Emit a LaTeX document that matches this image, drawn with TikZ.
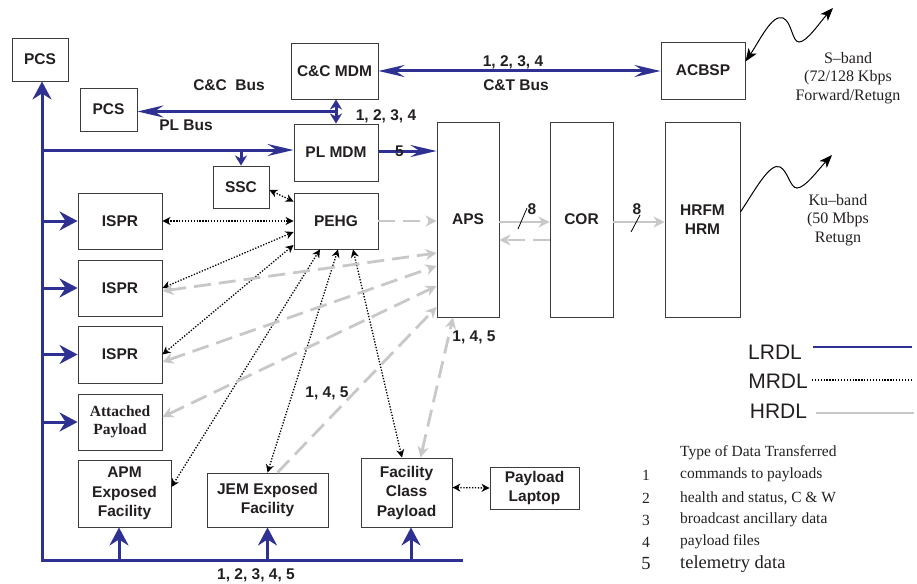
\documentclass[tikz,border=0pt]{standalone}
\usepackage{fontspec}
\setmainfont{Liberation Serif}
\setsansfont{Liberation Sans}
\usepackage{tikz}
\usetikzlibrary{arrows.meta,calc}
\definecolor{lrblue}{HTML}{2E3192}
\definecolor{hrgray}{HTML}{C8C8C8}
\definecolor{boxline}{HTML}{3C3C3C}
\definecolor{ink}{HTML}{231F20}
\tikzset{
  box/.style={draw=boxline,line width=0.9pt,fill=white,align=center,text=ink,
    font=\fontsize{15.5}{19.5}\selectfont\sffamily\bfseries,inner sep=1pt},
  dims/.style 2 args={minimum width=#1,minimum height=#2},
  serifbox/.style={box,font=\fontsize{15.5}{18}\selectfont\rmfamily\bfseries},
  lbl/.style={font=\fontsize{15.5}{19}\selectfont\sffamily\bfseries,text=ink,inner sep=0pt},
  note/.style={font=\fontsize{16}{18.8}\selectfont,text=ink,align=center,inner sep=0pt},
  keyname/.style={font=\fontsize{21}{24}\selectfont\sffamily,text=ink,inner sep=0pt},
  keynum/.style={font=\fontsize{15.5}{18}\selectfont,text=ink,inner sep=0pt},
  keytext/.style={font=\fontsize{15.5}{18}\selectfont,text=ink,inner sep=0pt,anchor=west},
  lrdl/.style={draw=lrblue,line width=3pt,>={Stealth[length=18pt,width=19pt,inset=6pt]},->},
  lrbus/.style={lrdl,>={Stealth[length=26pt,width=12pt,inset=9pt]}},
  lrsmall/.style={lrdl,>={Stealth[length=10pt,width=12pt,inset=3pt]}},
  mrdl/.style={draw=black,line width=1.3pt,dash pattern=on 1.3pt off 1.6pt,
    >={Stealth[length=8pt,width=8pt,inset=2.5pt]},<->},
  hrdl/.style={draw=hrgray,line width=2.8pt,dash pattern=on 17pt off 8pt,
    >={Stealth[length=11pt,width=11pt,inset=3.5pt]},->},
  hrsolid/.style={hrdl,solid},
  wave/.style={draw=black,line width=1pt,>={Stealth[length=13pt,width=10pt,inset=3.5pt]}},
}
\begin{document}
\begin{tikzpicture}[x=1pt,y=-1pt]
  \useasboundingbox (0,0) rectangle (917,583);
  % boxes
  \node[box,dims={56pt}{43pt}] (pcsA) at (40,59.5) {PCS};
  \node[box,dims={57pt}{43pt}] (pcsB) at (108.5,109.5) {PCS};
  \node[box,dims={87pt}{56pt}] (ccmdm) at (334.5,71) {C\&C MDM};
  \node[box,dims={84pt}{57pt}] (plmdm) at (336,152.5) {PL MDM};
  \node[box,dims={56pt}{42pt}] (ssc) at (241,187) {SSC};
  \node[box,dims={84pt}{56pt}] (pehg) at (336,221) {PEHG};
  \node[box,dims={84pt}{56pt}] (isprA) at (120,221) {ISPR};
  \node[box,dims={84pt}{56pt}] (isprB) at (120,288) {ISPR};
  \node[box,dims={84pt}{57pt}] (isprC) at (120,354.5) {ISPR};
  \node[serifbox,dims={84pt}{56pt}] (attpl) at (120,422) {Attached\\Payload};
  \node[box,dims={93pt}{67pt}] (apm) at (124.5,493.5) {APM\\Exposed\\Facility};
  \node[box,dims={121pt}{54pt}] (jem) at (267.5,500) {JEM Exposed\\Facility};
  \node[box,dims={91pt}{69pt}] (fcp) at (406.5,492.5) {Facility\\Class\\Payload};
  \node[box,dims={89pt}{42pt}] (laptop) at (534.5,488) {Payload\\Laptop};
  \node[box,dims={62pt}{195pt}] (aps) at (468,219.5) {APS};
  \node[box,dims={63pt}{195pt}] (cor) at (581.5,219.5) {COR};
  \node[box,dims={75pt}{195pt}] (hrfm) at (702.5,219.5) {HRFM\\HRM};
  \node[box,dims={84pt}{57pt}] (acbsp) at (703,70.5) {ACBSP};

  % LRDL bus
  \coordinate (busCorner) at (42,560);
  \coordinate (busEnd) at (463,560);
  \draw[lrdl] (busEnd) -- (busCorner) -- (busCorner |- pcsA.south);
  \foreach \b in {isprA,isprB,isprC,attpl}{
    \draw[lrdl] (busCorner |- \b.west) -- (\b.west);
  }
  \draw[lrdl] ([xshift=-5.5pt]apm.south |- busCorner) -- ([xshift=-5.5pt]apm.south);
  \draw[lrdl] (jem.south |- busCorner) -- (jem.south);
  \draw[lrdl] ([xshift=4.5pt]fcp.south |- busCorner) -- ([xshift=4.5pt]fcp.south);
  \draw[lrbus] (busCorner |- 0,150) -- (plmdm.west |- 0,150);
  \draw[lrsmall] (ssc.north |- 0,150) -- (ssc.north);
  \draw[lrsmall,<->] (plmdm.north |- ccmdm.south) -- (plmdm.north);
  \coordinate (ccJoin) at ($(plmdm.north |- ccmdm.south)!0.5!(plmdm.north)$);
  \draw[lrbus] (ccJoin) -- (ccJoin -| pcsB.east);
  \draw[lrbus,<->] (ccmdm.east) -- (ccmdm.east -| acbsp.west);
  \draw[lrbus] ([yshift=1.5pt]plmdm.east) -- node[lbl,pos=0.36]{5} ([yshift=1.5pt]plmdm.east -| aps.west);
  \node[lbl] (ccbus) at (229,85) {C\&C~~Bus};
  \node[lbl] (plbus) at (186,125) {PL Bus};
  \node[lbl] (ccdata) at (386,116) {1, 2, 3, 4};
  \node[lbl] (ctdata) at (513,62) {1, 2, 3, 4};
  \node[lbl] (ctbus) at (516,85) {C\&T Bus};
  \node[lbl] (busdata) at (256,575) {1, 2, 3, 4, 5};

  % MRDL
  \draw[mrdl] ([yshift=-3pt]ssc.east) -- ([yshift=-9pt]pehg.north west);
  \draw[mrdl] (isprA.east) -- (pehg.west);
  \draw[mrdl] (isprB.east) -- ([yshift=-11pt]pehg.west);
  \draw[mrdl] (isprC.east) -- ([yshift=-24pt]pehg.west);
  \draw[mrdl] ([yshift=6.5pt]apm.east) -- ([xshift=-16pt]pehg.south);
  \draw[mrdl] (jem.north) -- ([xshift=2pt]pehg.south);
  \draw[mrdl] ([xshift=-4.5pt]fcp.north) -- ([xshift=17pt]pehg.south);
  \draw[mrdl] ([yshift=5pt]fcp.east) -- (laptop.west);
  \node[lbl] (pehgdata) at (327,393) {1, 4, 5};

  % HRDL
  \draw[hrdl] (pehg.east) -- (pehg.east -| aps.west);
  \draw[hrdl,<->] ([yshift=-3pt]isprB.east) -- ([yshift=-33.5pt]aps.west);
  \draw[hrdl,<->] ([yshift=-7.5pt]isprC.east) -- ([yshift=-46.5pt]aps.west);
  \draw[hrdl,<->] ([yshift=5pt]attpl.east) -- ([yshift=-66.5pt]aps.west);
  \draw[hrdl] ([xshift=10pt]jem.north) -- ([yshift=-87.5pt]aps.west);
  \draw[hrdl,<->] ([xshift=14pt]fcp.north) -- ([xshift=-15pt]aps.south);
  \node[lbl] (apsdata) at (474,337) {1, 4, 5};
  \draw[hrsolid] ([yshift=-2.5pt]aps.east) -- ([yshift=-2.5pt]cor.west);
  \draw[hrdl] ([yshift=-20.5pt]cor.west) -- ([yshift=-20.5pt]aps.east);
  \draw[hrsolid] ([yshift=-2.5pt]cor.east) -- ([yshift=-2.5pt]hrfm.west);
  \draw[black,line width=0.8pt] (518,229) -- (527,208);
  \node[lbl] (wideA) at (532,209) {8};
  \draw[black,line width=0.8pt] (631,232) -- (640,215);
  \node[lbl] (wideB) at (637,209) {8};

  % radio links
  \coordinate (sTip) at (833,8);
  \draw[wave,<->] ([yshift=-20pt]acbsp.north east) .. controls (760,40) and (772,14) .. (783,18)
    .. controls (792,22) and (792,42) .. (799,42) .. controls (807,42) and (820,22) .. (sTip);
  \node[note] (sband) at (848,78) {S–band\\(72/128 Kbps\\Forward/Retugn};
  \coordinate (kuTip) at (832,155);
  \draw[wave,->] ([yshift=7.5pt]hrfm.east) .. controls (755,190) and (770,162) .. (780,167)
    .. controls (788,171) and (790,188) .. (797,188) .. controls (805,188) and (818,170) .. (kuTip);
  \node[note] (kuband) at (838,220) {Ku–band\\(50 Mbps\\Retugn};

  % key
  \node[keyname] (keyLR) at (775,352) {LRDL};
  \node[keyname] (keyMR) at (778,381) {MRDL};
  \node[keyname] (keyHR) at (778.5,411) {HRDL};
  \draw[draw=lrblue,line width=2.7pt] ([shift={(11pt,5pt)}]keyLR.east) -- ++(99,0);
  \draw[draw=black,line width=1.3pt,dash pattern=on 1.3pt off 1.6pt] ([shift={(4pt,1pt)}]keyMR.east) -- ++(101,0);
  \draw[draw=hrgray,line width=1.5pt] ([shift={(9pt,-2pt)}]keyHR.east) -- ++(98,0);
  \node[keytext] (keytitle) at (680,453) {Type of Data Transferred};
  \foreach \n/\what/\yy in {1/commands to payloads/475,2/{health and status, C \& W}/498,
      3/broadcast ancillary data/520,4/payload files/542}{
    \node[keynum] (num\n) at (646,\yy) {\n};
    \node[keytext] (item\n) at (680,\yy) {\what};
  }
  \node[keynum,font=\fontsize{18.5}{20}\selectfont] (num5) at (646,564) {5};
  \node[keytext,font=\fontsize{18.5}{20}\selectfont] (item5) at (680,564) {telemetry data};
\end{tikzpicture}
\end{document}
